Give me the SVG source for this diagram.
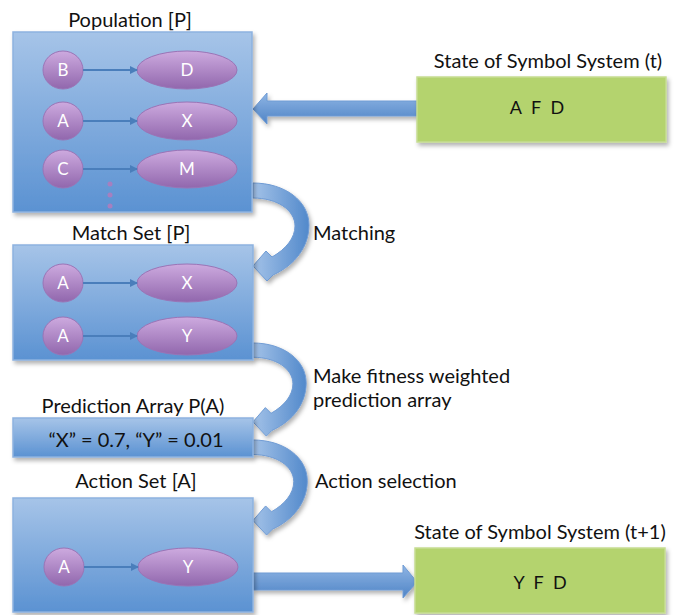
<svg xmlns="http://www.w3.org/2000/svg" width="677" height="615" viewBox="0 0 677 615">
<defs>
<linearGradient id="boxG" x1="0" y1="0" x2="0" y2="1">
<stop offset="0" stop-color="#a6c4e8"/>
<stop offset="1" stop-color="#5b92d2"/>
</linearGradient>
<linearGradient id="purG" x1="0" y1="0" x2="0" y2="1">
<stop offset="0" stop-color="#cdaadf"/>
<stop offset="1" stop-color="#9167ad"/>
</linearGradient>
<linearGradient id="arrG" x1="0" y1="0" x2="0" y2="1">
<stop offset="0" stop-color="#8fb5e4"/>
<stop offset="1" stop-color="#4f84c6"/>
</linearGradient>
<linearGradient id="curG" x1="0" y1="0" x2="1" y2="0">
<stop offset="0" stop-color="#a3c2e8"/>
<stop offset="1" stop-color="#5289cb"/>
</linearGradient>
<filter id="sh" x="-10%" y="-10%" width="130%" height="130%">
<feDropShadow dx="2" dy="3" stdDeviation="2" flood-color="#000" flood-opacity="0.3"/>
</filter>
<marker id="ah" markerWidth="8" markerHeight="8" refX="7" refY="4" orient="auto" markerUnits="userSpaceOnUse">
<path d="M0,0 L8,4 L0,8 Z" fill="#4a7ebb"/>
</marker>
<path id="curve" d="M0,0 C32,0 56,18 56,42 C56,64 42,82 20,92 L14,98 L0,83 L13,68 L19,74 C33,66 42,55 42,43 C42,27 24,15 0,15 Z"/>
</defs>
<style>
.box{fill:url(#boxG);stroke:#8db2df;stroke-width:1.5;filter:url(#sh)}
.grn{fill:#b4d36e;stroke:#c6dd93;stroke-width:1.5;filter:url(#sh)}
.pur{fill:url(#purG);stroke:#9a74b6;stroke-width:1}
.lnk{stroke:#4a7ebb;stroke-width:2;fill:none;marker-end:url(#ah)}
.lbl{font-family:Lato,"Liberation Sans",sans-serif;font-size:20px;fill:#111}
.in{font-family:Lato,"Liberation Sans",sans-serif;font-size:17px;fill:#fff;text-anchor:middle}
.big{fill:url(#arrG);stroke:#6f9bd4;stroke-width:1;filter:url(#sh)}
.cur{fill:url(#curG);stroke:#6f9bd4;stroke-width:1;filter:url(#sh)}
.mid{text-anchor:middle}
</style>

<g id="connectors">
<path class="big" d="M417,101 L267,101 L267,93 L253,109 L267,124 L267,116 L417,116 Z"/>
<path class="big" d="M253,573 L403,573 L403,565 L417,582 L403,598 L403,590 L253,590 Z"/>
<use href="#curve" class="cur" transform="translate(253,183)"/>
<use href="#curve" class="cur" transform="translate(253,343) scale(0.95)"/>
<use href="#curve" class="cur" transform="translate(253,440) scale(0.97)"/>
<text class="lbl" x="313" y="240">Matching</text>
<text class="lbl" x="313" y="383">Make fitness weighted</text>
<text class="lbl" x="313" y="407">prediction array</text>
<text class="lbl" x="315" y="488">Action selection</text>
</g>

<g id="population">
<text class="lbl mid" x="130" y="27">Population [P]</text>
<rect class="box" x="13" y="32" width="239" height="180"/>
<ellipse class="pur" cx="63" cy="70" rx="20" ry="19"/><text class="in" x="63" y="76">B</text>
<ellipse class="pur" cx="187" cy="70" rx="50" ry="19"/><text class="in" x="187" y="76">D</text>
<line class="lnk" x1="83" y1="70" x2="137" y2="70"/>
<ellipse class="pur" cx="63" cy="121" rx="20" ry="19"/><text class="in" x="63" y="127">A</text>
<ellipse class="pur" cx="187" cy="121" rx="50" ry="19"/><text class="in" x="187" y="127">X</text>
<line class="lnk" x1="83" y1="121" x2="137" y2="121"/>
<ellipse class="pur" cx="63" cy="169" rx="20" ry="19"/><text class="in" x="63" y="175">C</text>
<ellipse class="pur" cx="187" cy="169" rx="50" ry="19"/><text class="in" x="187" y="175">M</text>
<line class="lnk" x1="83" y1="169" x2="137" y2="169"/>
<circle cx="110" cy="184" r="2.5" fill="#a67fc0"/>
<circle cx="110" cy="195" r="2.5" fill="#a67fc0"/>
<circle cx="110" cy="206" r="2.5" fill="#a67fc0"/>
</g>

<g id="state-t">
<text class="lbl mid" x="548" y="68">State of Symbol System (t)</text>
<rect class="grn" x="417" y="77" width="249" height="65"/>
<text class="lbl mid" x="537" y="114" style="font-size:18px;word-spacing:5px">A F D</text>
</g>

<g id="match-set">
<text class="lbl mid" x="131" y="240">Match Set [P]</text>
<rect class="box" x="13" y="245" width="240" height="115"/>
<ellipse class="pur" cx="63" cy="283" rx="20" ry="19"/><text class="in" x="63" y="289">A</text>
<ellipse class="pur" cx="187" cy="283" rx="50" ry="19"/><text class="in" x="187" y="289">X</text>
<line class="lnk" x1="83" y1="283" x2="137" y2="283"/>
<ellipse class="pur" cx="63" cy="336" rx="20" ry="19"/><text class="in" x="63" y="342">A</text>
<ellipse class="pur" cx="187" cy="336" rx="50" ry="19"/><text class="in" x="187" y="342">Y</text>
<line class="lnk" x1="83" y1="336" x2="137" y2="336"/>
</g>

<g id="prediction-array">
<text class="lbl mid" x="133" y="413">Prediction Array P(A)</text>
<rect class="box" x="13" y="418" width="240" height="39"/>
<text class="lbl mid" x="136" y="447">“X” = 0.7, “Y” = 0.01</text>
</g>

<g id="action-set">
<text class="lbl mid" x="136" y="488">Action Set [A]</text>
<rect class="box" x="13" y="498" width="240" height="114"/>
<ellipse class="pur" cx="64" cy="567" rx="20" ry="19"/><text class="in" x="64" y="573">A</text>
<ellipse class="pur" cx="188" cy="567" rx="50" ry="19"/><text class="in" x="188" y="573">Y</text>
<line class="lnk" x1="84" y1="567" x2="138" y2="567"/>
</g>

<g id="state-t1">
<text class="lbl mid" x="540" y="539">State of Symbol System (t+1)</text>
<rect class="grn" x="415" y="548" width="250" height="65"/>
<text class="lbl mid" x="540" y="589" style="font-size:18px;word-spacing:5px">Y F D</text>
</g>
</svg>
